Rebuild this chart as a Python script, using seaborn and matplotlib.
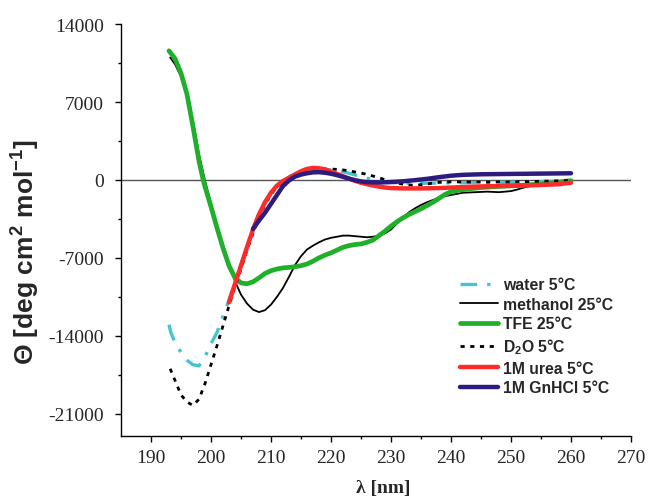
import numpy as np
import pandas as pd
import matplotlib
matplotlib.use("Agg")
import matplotlib.pyplot as plt
import seaborn as sns

# ---- data ----
water_x = [193.0, 193.3, 194, 195, 196, 197, 198, 199, 200, 201, 202, 203, 204, 205, 206, 207, 208, 209,
           210, 211, 212, 213, 214, 215, 216, 217, 218, 219, 220, 221, 222, 223, 224, 225, 226, 227, 228,
           230, 232, 235, 240, 245, 250, 255, 260]
water_y = [-13000, -13700, -14600, -15500, -16200, -16600, -16700, -15900, -14700, -13700, -12250,
           -10800, -9200, -7600, -6000, -4400, -3000, -1900, -1100, -500, -50, 280, 550, 750, 880, 950,
           980, 960, 900, 830, 730, 600, 450, 300, 150, 20, -100, -220, -280, -300, -260, -230, -200,
           -150, -100]

meth_x = [193.2, 194, 195, 196, 197, 198, 199, 200, 201, 202, 203, 204, 205, 206, 207, 208, 209, 210,
          211, 212, 213, 214, 215, 216, 217, 218, 219, 220, 221, 222, 223, 224, 225, 226, 227, 228, 229,
          230, 231, 232, 233, 234, 235, 236, 237, 238, 239, 240, 242, 244, 246, 248, 250, 251, 252, 254,
          256, 258, 260]
meth_y = [11000, 10400, 9300, 7800, 5300, 2300, -60, -2100, -4100, -5900, -7500, -9100, -10300, -11100,
          -11650, -11870, -11700, -11200, -10500, -9700, -8700, -7650, -6850, -6250, -5900, -5600, -5350,
          -5200, -5100, -5000, -5000, -5050, -5100, -5150, -5100, -5000, -4800, -4450, -3900, -3400,
          -2900, -2550, -2250, -2000, -1800, -1600, -1450, -1350, -1150, -1100, -1050, -1100, -1000,
          -870, -700, -450, -300, -200, -150]

tfe_x = [193.0, 194, 195, 196, 197, 198, 198.7, 199, 200, 201, 202, 203, 204, 205, 206, 207, 208, 209,
         210, 211, 212, 213, 214, 215, 216, 217, 218, 219, 220, 221, 222, 223, 224, 225, 226, 227, 228,
         229, 230, 231, 232, 233, 234, 235, 236, 237, 238, 239, 240, 241, 243, 245, 248, 251, 254, 257,
         260]
tfe_y = [11600, 10900, 9600, 7700, 4800, 1700, 0, -600, -2400, -4300, -6100, -7700, -8800, -9250,
         -9330, -9150, -8800, -8400, -8150, -8000, -7900, -7850, -7800, -7700, -7550, -7300, -7000,
         -6750, -6550, -6300, -6050, -5900, -5800, -5750, -5600, -5400, -5000, -4600, -4150, -3750,
         -3400, -3100, -2850, -2600, -2300, -2000, -1650, -1300, -1050, -950, -800, -680, -580, -510,
         -400, -250, -60]

d2o_x = [193.2, 194, 195, 196, 197, 198, 199, 200, 201, 202, 203, 204, 205, 206, 207, 208, 209, 210,
         211, 212, 213, 214, 215, 216, 217, 218, 219, 220, 221, 222, 223, 224, 225, 226, 227, 228, 229,
         230, 231, 232, 233, 234, 235, 236, 237, 238, 240, 245, 250, 255, 260]
d2o_y = [-16960, -18000, -19300, -19950, -20250, -19700, -18300, -16600, -14900, -13100, -11300, -9600,
         -8000, -6300, -4800, -3400, -2200, -1300, -650, -150, 200, 450, 650, 800, 900, 950, 980, 980,
         950, 900, 820, 720, 620, 500, 350, 200, 20, -150, -280, -380, -450, -480, -430, -360, -280,
         -220, -170, -190, -180, -120, -50]

urea_x = [203, 204, 205, 206, 207, 208, 209, 210, 211, 212, 213, 214, 215, 216, 217, 218, 219, 220,
          221, 222, 223, 224, 225, 226, 227, 228, 229, 230, 232, 235, 238, 241, 245, 250, 255, 258, 260]
urea_y = [-11000, -9330, -7700, -6050, -4450, -3100, -2000, -1150, -510, -100, 200, 500, 780, 990,
          1080, 1050, 950, 750, 550, 330, 120, -80, -250, -380, -500, -600, -680, -730, -760, -760,
          -730, -660, -580, -520, -450, -380, -250]

gn_x = [207, 208, 209, 210, 211, 212, 213, 214, 215, 216, 217, 218, 219, 220, 221, 222, 223, 224, 225,
        226, 228, 230, 232, 234, 236, 238, 240, 242, 245, 250, 255, 260]
gn_y = [-4400, -3650, -2950, -2150, -1350, -550, -50, 300, 480, 600, 680, 700, 650, 560, 430, 280,
        120, -20, -130, -200, -230, -190, -120, -20, 100, 250, 380, 460, 510, 540, 570, 600]

labels = ["water 5°C", "methanol 25°C", "TFE 25°C", r"D$_\mathbf{2}$O 5°C", "1M urea 5°C", "1M GnHCl 5°C"]

x_ticks = [190, 200, 210, 220, 230, 240, 250, 260, 270]
y_ticks = [-21000, -14000, -7000, 0, 7000, 14000]

# ---- style ----
sns.set_theme(style="ticks")
plt.rcParams["mathtext.fontset"] = "custom"
plt.rcParams["mathtext.rm"] = "Liberation Sans"
plt.rcParams["mathtext.bf"] = "Liberation Sans:bold"
plt.rcParams["font.family"] = ["Liberation Sans", "DejaVu Sans"]
plt.rcParams["axes.unicode_minus"] = False

fig = plt.figure(figsize=(6.49, 5.02), dpi=100)
ax = fig.add_axes([0.1864, 0.1295, 0.7859, 0.8205])

series = [
    (water_x, water_y, dict(color="#45c4cc", lw=2.4, dashes=(5, 3, 1, 3))),
    (meth_x, meth_y, dict(color="black", lw=1.3)),
    (tfe_x, tfe_y, dict(color="#1fb02a", lw=3.4)),
    (d2o_x, d2o_y, dict(color="black", lw=2.0, dashes=(1.5, 2))),
    (urea_x, urea_y, dict(color="#ff2a2a", lw=3.2)),
    (gn_x, gn_y, dict(color="#2e1b7d", lw=3.2)),
]

ax.axhline(0, color="#555555", lw=1.0, zorder=1)
for (xs, ys, kw), lab in zip(series, labels):
    kw = dict(kw)
    df = pd.DataFrame({"x": xs, "y": ys})
    dashes = kw.pop("dashes", None)
    sns.lineplot(data=df, x="x", y="y", ax=ax, label=lab, estimator=None, sort=False, **kw)
    if dashes is not None:
        ax.get_lines()[-1].set_dashes(dashes)

ax.set_xlim(185, 270)
ax.set_ylim(-23000, 14000)
ax.set_xticks(x_ticks)
ax.set_yticks(y_ticks)
ax.set_xticks(np.arange(195, 270, 10), minor=True)
ax.set_yticks(np.arange(-17500, 14000, 7000), minor=True)
for lbl in ax.get_xticklabels() + ax.get_yticklabels():
    lbl.set_fontfamily("Liberation Serif")
    lbl.set_fontsize(14)
ax.tick_params(axis="x", which="major", direction="out", length=4.5, width=1, color="black", pad=5)
ax.tick_params(axis="y", which="major", direction="out", length=4.5, width=1, color="black", pad=8)
ax.tick_params(which="minor", direction="out", length=2.5, width=1, color="black")
sns.despine(ax=ax)
for s in ["left", "bottom"]:
    ax.spines[s].set_color("black")
    ax.spines[s].set_linewidth(1.0)

ax.set_xlabel("λ [nm]", fontfamily="Liberation Serif", fontweight="bold", fontsize=14)
ax.xaxis.set_label_coords(0.515, -0.105)
ax.set_ylabel(r"Θ [deg cm$^\mathbf{2}$ mol$^\mathbf{-1}$]", fontweight="bold", fontsize=19)
ax.yaxis.set_label_coords(-0.157, 0.45)

ax.legend(loc="upper left", bbox_to_anchor=(0.665, 0.386), frameon=False, borderaxespad=0,
          borderpad=0, handlelength=2.4, handletextpad=0.35, labelspacing=0.3,
          prop=dict(family="Liberation Sans", weight="bold", size=11.3))

fig.savefig("out.png", dpi=100)
